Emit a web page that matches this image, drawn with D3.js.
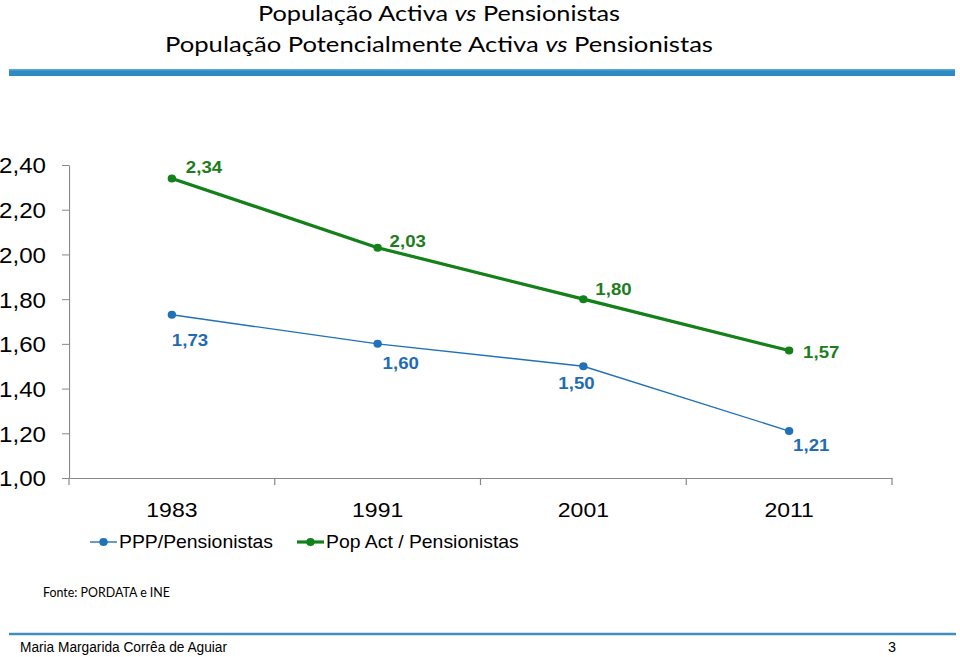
<!DOCTYPE html>
<html><head><meta charset="utf-8">
<script src="https://cdn.jsdelivr.net/npm/d3@7"></script>
<style>body{margin:0;background:#fff}svg{display:block}</style>
</head><body>
<svg id="c" width="960" height="657"></svg>
<script>
const categories = ["1983","1991","2001","2011"];
const pppValues = [1.73, 1.60, 1.50, 1.21];
const popActValues = [2.34, 2.03, 1.80, 1.57];
const yTicks = [1.00,1.20,1.40,1.60,1.80,2.00,2.20,2.40];
const seriesNames = ["PPP/Pensionistas","Pop Act / Pensionistas"];
const fmt = v => d3.format(".2f")(v).replace(".", ",");

const sx = 1.0959; // horizontal stretch of original slide
const X = px => px / sx;
const svg = d3.select("#c");
const g = svg.append("g").attr("transform", `scale(${sx},1)`);

// title
function title(parts, yb, w) {
  const t = g.append("text").attr("x", X(439)).attr("y", yb).attr("text-anchor","middle")
    .attr("textLength", X(w)).attr("lengthAdjust","spacingAndGlyphs")
    .style("font-family","Lato, 'Open Sans', sans-serif").style("font-size","22px").attr("fill","#000");
  parts.forEach(p => t.append("tspan").style("font-style", p.i ? "italic" : "normal").text(p.t));
}
title([{t:"População Activa "},{t:"vs",i:1},{t:" Pensionistas"}], 21, 362);
title([{t:"População Potencialmente Activa "},{t:"vs",i:1},{t:" Pensionistas"}], 52, 548);

// header bar
g.append("rect").attr("x",X(9)).attr("y",69).attr("width",X(946)).attr("height",7).attr("fill","#2e8bc2");
g.append("rect").attr("x",X(9)).attr("y",69).attr("width",X(946)).attr("height",1.5).attr("fill","#5aa6d2");

// scales
const x = d3.scaleBand().domain(categories).range([X(69), X(892)]).padding(0);
const y = d3.scaleLinear().domain([1.0, 2.4]).range([478, 165]);

// y axis
const yAxis = d3.axisLeft(y).tickValues(yTicks).tickFormat(fmt).tickSize(7).tickSizeOuter(0);
const ya = g.append("g").attr("transform",`translate(${X(69)},0)`).call(yAxis);
ya.select(".domain").attr("stroke","#888");
ya.selectAll(".tick line").attr("stroke","#888").attr("transform",`scale(${1/sx},1)`);
ya.selectAll(".tick text").attr("x", X(46)-X(69)).attr("dy","0.36em")
  .style("font-family","'Liberation Sans', Arial, sans-serif").style("font-size","22px").attr("fill","#000");

// x axis
const xa = g.append("g").attr("transform",`translate(0,478)`).call(d3.axisBottom(x).tickSize(0).tickSizeOuter(0));
xa.select(".domain").attr("stroke","#888");
xa.selectAll(".tick text").attr("y", 39).attr("dy",0)
  .style("font-family","'Liberation Sans', Arial, sans-serif").style("font-size","21px").attr("fill","#000");
const bounds = categories.map(c => x(c)).concat([x.range()[1]]);
g.append("g").selectAll("line").data(bounds).join("line")
  .attr("x1", d=>d).attr("x2", d=>d).attr("y1",478).attr("y2",485)
  .attr("stroke","#888").attr("stroke-width",1/sx*1.2);

const cx = c => x(c) + x.bandwidth()/2;
const blue = "#2171b9", blueLbl = "#1f6cb4";
const green = "#13801a", greenLbl = "#1c7d1c";

const line = vals => d3.line().x((d,i)=>cx(categories[i])).y(d=>y(d))(vals);
g.append("path").attr("d", line(pppValues)).attr("fill","none").attr("stroke",blue).attr("stroke-width",1.4);
g.append("path").attr("d", line(popActValues)).attr("fill","none").attr("stroke",green).attr("stroke-width",3.2);

g.append("g").selectAll("ellipse").data(pppValues).join("ellipse")
  .attr("cx",(d,i)=>cx(categories[i])).attr("cy",d=>y(d)).attr("rx",4/sx*1.05).attr("ry",4).attr("fill",blue);
g.append("g").selectAll("ellipse").data(popActValues).join("ellipse")
  .attr("cx",(d,i)=>cx(categories[i])).attr("cy",d=>y(d)).attr("rx",4/sx*1.05).attr("ry",4).attr("fill",green);

// data labels (label placement offsets in px)
const pppLblOff = [[0,25],[5,19],[-25,17],[4,14]];
const popLblOff = [[14,-11],[12,-7],[12,-10],[14,1]];
const lblStyle = sel => sel.style("font-family","'Liberation Sans', Arial, sans-serif")
  .style("font-size","17px").style("font-weight","bold").attr("dy","0.35em");
g.append("g").selectAll("text").data(pppValues).join("text")
  .attr("x",(d,i)=>cx(categories[i]) + X(pppLblOff[i][0])).attr("y",(d,i)=>y(d)+pppLblOff[i][1])
  .attr("fill",blueLbl).text(fmt).call(lblStyle);
g.append("g").selectAll("text").data(popActValues).join("text")
  .attr("x",(d,i)=>cx(categories[i]) + X(popLblOff[i][0])).attr("y",(d,i)=>y(d)+popLblOff[i][1])
  .attr("fill",greenLbl).text(fmt).call(lblStyle);

// legend
const legend = [{name:seriesNames[0], color:blue, w:1.4, x0:90}, {name:seriesNames[1], color:green, w:3.2, x0:297}];
const lg = g.append("g").selectAll("g").data(legend).join("g");
lg.append("line").attr("x1",d=>X(d.x0)).attr("x2",d=>X(d.x0+27)).attr("y1",542).attr("y2",542)
  .attr("stroke",d=>d.color).attr("stroke-width",d=>d.w);
lg.append("ellipse").attr("cx",d=>X(d.x0+13.5)).attr("cy",542).attr("rx",4/sx*1.05).attr("ry",4).attr("fill",d=>d.color);
lg.append("text").attr("x",d=>X(d.x0+29)).attr("y",542).attr("dy","0.36em").text(d=>d.name)
  .style("font-family","'Liberation Sans', Arial, sans-serif").style("font-size","17.7px").attr("fill","#000");

// source
g.append("text").attr("x",X(43)).attr("y",597).text("Fonte: PORDATA e INE")
  .attr("textLength", X(127)).attr("lengthAdjust","spacingAndGlyphs")
  .style("font-family","Lato, 'Open Sans', sans-serif").style("font-size","12.5px").attr("fill","#000");

// footer
g.append("line").attr("x1",X(9)).attr("x2",X(956)).attr("y1",634).attr("y2",634).attr("stroke","#3c8fbf").attr("stroke-width",2.5);
g.append("text").attr("x",X(20)).attr("y",652).text("Maria Margarida Corrêa de Aguiar")
  .attr("textLength", X(207)).attr("lengthAdjust","spacingAndGlyphs")
  .style("font-family","'Liberation Sans', Arial, sans-serif").style("font-size","15px").attr("fill","#000");
g.append("text").attr("x",X(892)).attr("y",652).attr("text-anchor","middle").text("3")
  .attr("textLength", X(8)).attr("lengthAdjust","spacingAndGlyphs")
  .style("font-family","'Liberation Sans', Arial, sans-serif").style("font-size","15px").attr("fill","#000");
</script>
</body></html>
